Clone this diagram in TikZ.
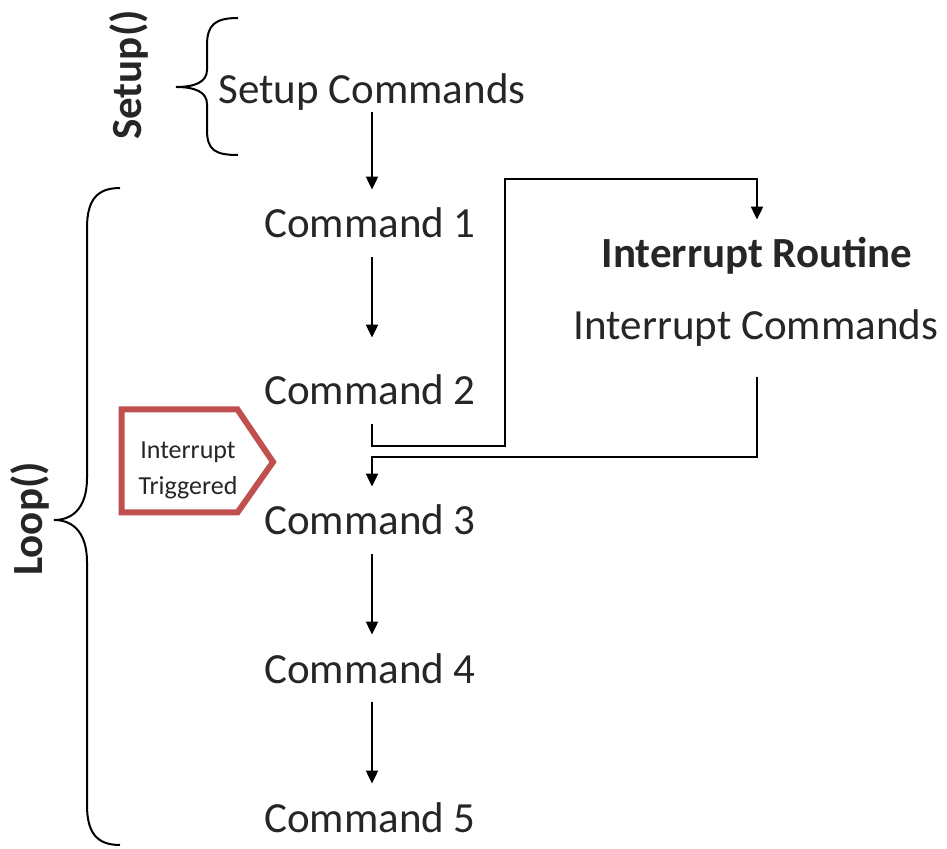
\documentclass[tikz,border=0pt]{standalone}
\usepackage{fontspec}
\setmainfont{Carlito}
\usepackage{xcolor}
\usetikzlibrary{arrows.meta}

\definecolor{txtgray}{HTML}{262626}
\definecolor{trigred}{HTML}{C0504D}

\begin{document}
\begin{tikzpicture}[
	x=0.5pt, y=-0.5pt,
	font=\fontsize{21.5}{26}\selectfont,
	% Text styles
	cmd/.style={text=txtgray, inner xsep=0pt, inner ysep=0pt, text height=24pt, text depth=9.5pt, anchor=base},
	cmd bold/.style={cmd, font=\fontsize{21.5}{26}\selectfont\bfseries},
	side label/.style={text=txtgray, rotate=90, inner sep=0pt, font=\fontsize{21.5}{26}\selectfont\bfseries},
	trig label/.style={text=txtgray, align=center, inner sep=0pt, font=\fontsize{13}{18}\selectfont},
	% Line styles
	flow/.style={line width=1pt, draw=black, -{Triangle[length=6.5pt, width=6pt]}},
	brace line/.style={line width=1pt, draw=black},
	trig box/.style={line width=3pt, draw=trigred, line join=miter}
	]
	
	\useasboundingbox (0,0) rectangle (947,849);
	
	% ==============================================================================
	% SETUP
	% ==============================================================================
	\node[cmd] (setup) at (372,104) {Setup Commands};
	\node[side label] (setupLbl) at (129,75) {Setup()};
	\draw[brace line] (238,18) .. controls (215,18) and (207,25) .. (207,45) -- (207,70)
		.. controls (207,82) and (195,87) .. (176,87)
		.. controls (195,87) and (207,92) .. (207,104) -- (207,130)
		.. controls (207,150) and (215,155) .. (238,155);
	
	% ==============================================================================
	% LOOP
	% ==============================================================================
	\node[cmd] (cmd1) at (370,238) {Command 1};
	\node[cmd] (cmd2) at (370,405) {Command 2};
	\node[cmd] (cmd3) at (370,535) {Command 3};
	\node[cmd] (cmd4) at (370,683) {Command 4};
	\node[cmd] (cmd5) at (370,832) {Command 5};
	
	\node[side label] (loopLbl) at (30,519) {Loop()};
	\draw[brace line] (120,188) .. controls (97,188) and (87,200) .. (87,228) -- (87,478)
		.. controls (87,505) and (75,520) .. (54,520)
		.. controls (75,520) and (87,535) .. (87,562) -- (87,805)
		.. controls (87,833) and (97,845) .. (120,845);
	
	\draw[flow, shorten <=-5.5pt] (setup.south -| 372,0) -- (cmd1.north -| 372,0);
	\draw[flow, shorten >=9.5pt] (cmd1.south -| 372,0) -- (cmd2.north -| 372,0);
	\draw[flow] (cmd3.south -| 372,0) -- (cmd4.north -| 372,0);
	\draw[flow] (cmd4.south -| 372,0) -- (cmd5.north -| 372,0);
	
	% ==============================================================================
	% INTERRUPT
	% ==============================================================================
	\node[cmd bold] (irTitle) at (757,268) {Interrupt Routine};
	\node[cmd] (irCmds) at (756,340) {Interrupt Commands};
	
	\coordinate (jmpA) at (505,446);
	\coordinate (jmpB) at (505,179);
	\coordinate (retA) at (757,457);
	
	\draw[flow] (cmd2.south -| 372,0) |- (jmpA) -- (jmpB) -| (irTitle.north);
	\draw[flow, shorten <=9pt] (irCmds.south -| retA) -- (retA) -| (cmd3.north -| 372,0);
	
	% trigger marker
	\node[trig label] (trig) at (188,470) {Interrupt\\Triggered};
	\draw[trig box] (121.5,409.5) -- (237.5,409.5) -- (273,462) -- (237.5,512.5) -- (121.5,512.5) -- cycle;
	
\end{tikzpicture}
\end{document}
